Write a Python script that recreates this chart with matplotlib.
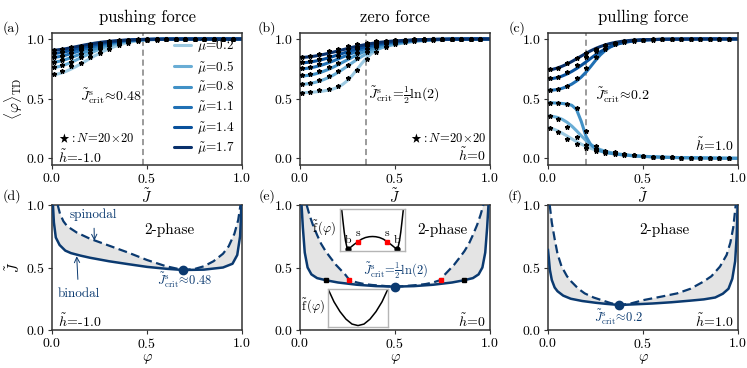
import numpy as np
import matplotlib
matplotlib.use('Agg')
import matplotlib.pyplot as plt

plt.rcParams['font.family'] = 'serif'
plt.rcParams['font.serif'] = ['cmr10']
plt.rcParams['mathtext.fontset'] = 'cm'
plt.rcParams['axes.formatter.use_mathtext'] = True
plt.rcParams['axes.unicode_minus'] = False

# ---- данные: верхний ряд (средняя концентрация от J) ----
mu_vals = [0.2, 0.5, 0.8, 1.1, 1.4, 1.7]
J_th = [0, .025, .05, .075, .1, .125, .15, .175, .2, .225, .25, .275, .3, .325,
        .35, .375, .4, .425, .45, .475, .5, .6, .7, .8, .9, 1.0]
J_mc = [.01, .05, .1, .15, .2, .25, .3, .35, .4, .45, .5, .55, .6, .65, .7, .75,
        .8, .85, .9, .95]

phi_a = [
    [.700, .705, .715, .730, .748, .768, .790, .813, .836, .859, .880, .900, .918, .934, .948, .960, .970, .978, .984, .989, .992, .998, 1, 1, 1, 1],
    [.760, .765, .775, .788, .804, .822, .841, .860, .879, .897, .914, .929, .942, .954, .964, .972, .979, .984, .988, .991, .994, .999, 1, 1, 1, 1],
    [.805, .809, .818, .830, .844, .859, .874, .889, .904, .918, .931, .943, .954, .963, .971, .978, .983, .987, .990, .993, .995, .999, 1, 1, 1, 1],
    [.845, .849, .856, .866, .878, .890, .903, .915, .927, .938, .948, .957, .965, .972, .978, .983, .987, .990, .992, .994, .996, .999, 1, 1, 1, 1],
    [.878, .881, .887, .895, .904, .914, .924, .934, .943, .952, .960, .967, .973, .978, .983, .987, .990, .992, .994, .996, .997, .999, 1, 1, 1, 1],
    [.905, .908, .913, .919, .927, .935, .943, .951, .958, .965, .971, .976, .980, .984, .987, .990, .992, .994, .995, .996, .997, .999, 1, 1, 1, 1],
]
mc_a = [
    [.71, .73, .77, .80, .85, .885, .92, .95, .97, .985, .99, .995, 1, 1, 1, 1, 1, 1, 1, 1],
    [.765, .78, .81, .845, .88, .915, .945, .965, .98, .99, .995, 1, 1, 1, 1, 1, 1, 1, 1, 1],
    [.81, .82, .85, .875, .905, .935, .955, .975, .985, .99, .995, 1, 1, 1, 1, 1, 1, 1, 1, 1],
    [.85, .86, .88, .905, .93, .95, .965, .98, .99, .995, 1, 1, 1, 1, 1, 1, 1, 1, 1, 1],
    [.88, .89, .905, .925, .945, .96, .975, .985, .99, .995, 1, 1, 1, 1, 1, 1, 1, 1, 1, 1],
    [.91, .915, .93, .945, .96, .97, .98, .99, .995, 1, 1, 1, 1, 1, 1, 1, 1, 1, 1, 1],
]

phi_b = [
    [.550, .551, .553, .556, .560, .565, .572, .582, .597, .620, .652, .695, .745, .795, .840, .876, .904, .926, .943, .956, .966, .988, .996, .999, 1, 1],
    [.620, .622, .627, .635, .646, .660, .677, .697, .720, .746, .773, .801, .828, .853, .875, .894, .910, .924, .936, .946, .955, .980, .992, .997, .999, 1],
    [.690, .692, .697, .705, .716, .730, .746, .764, .784, .805, .826, .847, .867, .885, .901, .916, .929, .940, .950, .958, .965, .985, .994, .998, 1, 1],
    [.750, .752, .757, .765, .775, .787, .801, .816, .832, .849, .865, .881, .896, .910, .923, .934, .944, .953, .960, .967, .972, .988, .995, .998, 1, 1],
    [.800, .802, .806, .813, .821, .831, .842, .854, .867, .880, .893, .905, .917, .928, .938, .947, .955, .962, .968, .973, .977, .990, .996, .999, 1, 1],
    [.845, .847, .851, .856, .863, .871, .880, .890, .900, .910, .920, .930, .939, .947, .955, .962, .968, .973, .977, .981, .984, .993, .997, .999, 1, 1],
]
mc_b = [
    [.55, .56, .57, .58, .61, .67, .74, .83, .89, .93, .96, .975, .985, .99, .995, 1, 1, 1, 1, 1],
    [.625, .635, .655, .69, .73, .78, .84, .89, .93, .955, .97, .985, .99, .995, 1, 1, 1, 1, 1, 1],
    [.695, .705, .73, .765, .80, .845, .885, .92, .945, .965, .98, .99, .995, 1, 1, 1, 1, 1, 1, 1],
    [.755, .765, .79, .82, .855, .885, .915, .94, .96, .975, .985, .99, .995, 1, 1, 1, 1, 1, 1, 1],
    [.805, .815, .835, .86, .89, .915, .935, .955, .97, .98, .99, .995, 1, 1, 1, 1, 1, 1, 1, 1],
    [.85, .86, .875, .90, .92, .94, .955, .97, .98, .985, .99, .995, 1, 1, 1, 1, 1, 1, 1, 1],
]

phi_c = [
    [.257, .248, .232, .211, .188, .164, .141, .120, .101, .085, .071, .060, .051, .044, .038, .033, .029, .025, .022, .019, .017, .010, .006, .004, .002, .001],
    [.355, .352, .343, .327, .303, .271, .232, .190, .150, .117, .092, .074, .061, .051, .043, .037, .032, .028, .024, .021, .018, .011, .007, .004, .002, .001],
    [.465, .465, .463, .460, .455, .445, .410, .310, .185, .115, .082, .064, .052, .044, .038, .033, .029, .025, .022, .019, .017, .010, .006, .004, .002, .001],
    [.570, .572, .577, .587, .602, .622, .648, .681, .722, .770, .820, .866, .902, .930, .950, .964, .974, .981, .986, .990, .992, .997, .999, 1, 1, 1],
    [.665, .669, .677, .690, .707, .728, .752, .779, .808, .838, .867, .893, .915, .934, .949, .961, .970, .977, .983, .987, .990, .997, .999, 1, 1, 1],
    [.740, .746, .757, .772, .790, .811, .834, .857, .880, .901, .920, .936, .950, .961, .970, .977, .983, .987, .990, .992, .994, .998, .999, 1, 1, 1],
]
mc_c = [
    [.255, .22, .165, .12, .085, .06, .045, .035, .03, .025, .02, .015, .01, .008, .006, .005, .004, .003, .002, .002],
    [.355, .33, .26, .18, .11, .075, .055, .045, .035, .028, .02, .015, .01, .008, .006, .005, .004, .003, .002, .002],
    [.465, .46, .455, .42, .23, .10, .065, .05, .04, .03, .02, .015, .01, .008, .006, .005, .004, .003, .002, .002],
    [.575, .58, .61, .67, .76, .85, .92, .955, .975, .985, .99, .995, 1, 1, 1, 1, 1, 1, 1, 1],
    [.67, .68, .72, .78, .85, .90, .94, .965, .98, .99, .995, 1, 1, 1, 1, 1, 1, 1, 1, 1],
    [.745, .76, .80, .84, .88, .92, .95, .97, .98, .99, .995, 1, 1, 1, 1, 1, 1, 1, 1, 1],
]
J_crit = [0.48, 0.3466, 0.2]

# ---- данные: нижний ряд (бинодаль / спинодаль) ----
phi_bin_d = [.005, .01, .02, .04, .07, .1, .15, .2, .3, .4, .5, .6, .69, .8, .9, .95, .975, .99, .997]
J_bin_d = [1.0, .86, .74, .68, .635, .615, .595, .578, .55, .527, .505, .49, .48, .483, .50, .53, .60, .75, 1.0]
phi_sp_d = [.03, .042, .06, .08, .13, .2, .3, .4, .5, .6, .69, .75, .8, .85, .9, .93, .96, .98, .992]
J_sp_d = [1.0, .93, .87, .83, .78, .73, .675, .62, .56, .51, .48, .488, .51, .55, .61, .67, .77, .88, 1.0]

phi_bin_e = [.008, .015, .025, .04, .06, .09, .14, .2, .3, .4, .5, .6, .7, .8, .86, .91, .94, .96, .975, .985, .992]
J_bin_e = [1.0, .82, .62, .50, .445, .415, .397, .38, .362, .351, .347, .351, .362, .38, .397, .415, .445, .50, .62, .82, 1.0]
phi_sp_e = [.035, .05, .068, .09, .111, .135, .163, .19, .215, .24, .26, .3, .337, .38, .424, .46, .5,
            .54, .576, .62, .663, .7, .74, .76, .785, .81, .837, .865, .889, .91, .932, .95, .965]
J_sp_e = [1.0, .92, .84, .76, .69, .63, .573, .52, .48, .44, .40, .38, .368, .36, .355, .35, .347,
          .35, .355, .36, .368, .38, .40, .44, .48, .52, .573, .63, .69, .76, .84, .92, 1.0]

phi_bin_f = [0.0, .004, .01, .02, .035, .05, .08, .12, .18, .25, .3, .375, .45, .55, .65, .75, .82, .88, .92, .95, .97, .985, .993, .998]
J_bin_f = [.64, .58, .48, .40, .34, .31, .275, .25, .232, .218, .21, .2, .205, .212, .222, .235, .245, .26, .29, .33, .41, .55, .75, 1.0]
phi_sp_f = [.009, .02, .036, .05, .071, .1, .123, .16, .193, .24, .28, .33, .375, .43, .505, .6, .68, .75, .818, .86, .905, .94, .96, .975, .988]
J_sp_f = [1.0, .86, .72, .61, .51, .43, .387, .33, .293, .26, .24, .215, .2, .21, .24, .268, .293, .33, .387, .43, .507, .60, .70, .82, 1.0]

crit_points = [(0.69, 0.48), (0.5, 0.347), (0.375, 0.2)]
b_phi_e, s_phi_e, bs_J_e = [0.135, 0.865], [0.26, 0.74], 0.40

# вставки в (e): свободная энергия
dw_x = [.025, .045, .065, .085, .105, .125, .15, .18, .22, .275, .33, .39, .45, .5,
        .55, .61, .67, .725, .78, .82, .85, .875, .895, .915, .935, .955, .975]
dw_y = [1.0, .72, .45, .24, .10, .05, .07, .11, .16, .22, .28, .32, .34, .345,
        .34, .32, .28, .22, .16, .11, .07, .05, .10, .24, .45, .72, 1.0]
pw_x = [.01, .1, .2, .3, .4, .5, .6, .7, .8, .9, .99]
pw_y = [.97, .66, .40, .20, .07, .03, .07, .20, .40, .66, .97]

navy = '#0b3a70'
colors = plt.cm.Blues(np.linspace(0.38, 1.0, 6))
spine_col = '#333333'

fig = plt.figure(figsize=(7.47, 3.68), dpi=100)
lefts = [52/747, 300/747, 548/747]
w = 190/747
ax_top = [fig.add_axes([l, 1-165/368, w, 132/368]) for l in lefts]
ax_bot = [fig.add_axes([l, 1-330/368, w, 125/368]) for l in lefts]

def style(ax):
    for s in ax.spines.values():
        s.set_color(spine_col)
        s.set_linewidth(1.1)
    ax.tick_params(labelsize=10, length=3, width=0.8, pad=2, color=spine_col)
    ax.set_xticks([0, 0.5, 1.0])
    ax.set_yticks([0, 0.5, 1.0])
    ax.set_xlim(0, 1)

titles = ['pushing force', 'zero force', 'pulling force']
th_all = [phi_a, phi_b, phi_c]
mc_all = [mc_a, mc_b, mc_c]
for i, ax in enumerate(ax_top):
    style(ax)
    for k, mu in enumerate(mu_vals):
        ax.plot(J_th, th_all[i][k], color=colors[k], lw=2.2, solid_capstyle='round',
                label=r'$\tilde{\mu}\!=\!%.1f$' % mu)
    for k in range(6):
        ax.plot(J_mc, mc_all[i][k], ls='none', marker='*', color='k', ms=3.3, zorder=5)
    ax.axvline(J_crit[i], color='0.5', ls=(0, (4, 2.5)), lw=1.1, zorder=1)
    ax.set_ylim(-0.055, 1.05)
    ax.set_title(titles[i], fontsize=12, pad=8)
    ax.set_xlabel(r'$\tilde{J}$', fontsize=10.5, labelpad=1)

ax_top[0].set_ylabel(r'$\langle\varphi\rangle_{\rm TD}$', fontsize=11, labelpad=1)
ax_top[0].legend(loc='lower right', frameon=False, fontsize=9.5, handlelength=1.3,
                 handletextpad=0.4, labelspacing=0.3, borderaxespad=0.2)
ax_top[0].text(0.47, 0.52, r'$\tilde{J}^{\rm s}_{\rm crit}\!\approx\!0.48$', fontsize=10,
               ha='right', va='center')
ax_top[0].text(0.03, 0.17, r'$\bigstar: N\!=\!20\!\times\!20$', fontsize=9, ha='left', va='center')
ax_top[0].text(0.03, 0.01, r'$\tilde{h}\!=\!$-1.0', fontsize=10, ha='left', va='center')
ax_top[1].text(0.36, 0.53, r'$\tilde{J}^{\rm s}_{\rm crit}\!=\!\frac{1}{2}\ln(2)$', fontsize=10,
               ha='left', va='center')
ax_top[1].text(0.98, 0.17, r'$\bigstar: N\!=\!20\!\times\!20$', fontsize=9, ha='right', va='center')
ax_top[1].text(0.98, 0.03, r'$\tilde{h}\!=\!0$', fontsize=10, ha='right', va='center')
ax_top[2].text(0.245, 0.53, r'$\tilde{J}^{\rm s}_{\rm crit}\!\approx\!0.2$', fontsize=10,
               ha='left', va='center')
ax_top[2].text(0.98, 0.11, r'$\tilde{h}\!=\!1.0$', fontsize=10, ha='right', va='center')

# нижний ряд
bins = [(phi_bin_d, J_bin_d), (phi_bin_e, J_bin_e), (phi_bin_f, J_bin_f)]
sps = [(phi_sp_d, J_sp_d), (phi_sp_e, J_sp_e), (phi_sp_f, J_sp_f)]
for i, ax in enumerate(ax_bot):
    style(ax)
    pb, jb = bins[i]
    ps, js = sps[i]
    px = np.r_[pb, ps[::-1], 0.0]
    py = np.r_[jb, js[::-1], js[0]]
    ax.fill(px, py, color='#e4e4e4', lw=0, zorder=1)
    ax.plot(pb, jb, color=navy, lw=1.8, zorder=3)
    ax.plot(ps, js, color=navy, lw=1.6, ls=(0, (4, 2)), zorder=3)
    ax.plot(*crit_points[i], 'o', color=navy, ms=6, zorder=6)
    ax.set_ylim(0, 1)
    ax.set_xlabel(r'$\varphi$', fontsize=10.5, labelpad=1)
    ax.text([0.62, 0.75, 0.61][i], 0.80, '2-phase', fontsize=11, ha='center', va='center')

ax_bot[0].set_ylabel(r'$\tilde{J}$', fontsize=10.5, labelpad=2)
ax_bot[0].annotate('spinodal', xy=(0.223, 0.715), xytext=(0.22, 0.92), color=navy, fontsize=9.5,
                   ha='center', va='center',
                   arrowprops=dict(arrowstyle='->', color=navy, lw=0.7, shrinkA=3, shrinkB=0))
ax_bot[0].annotate('binodal', xy=(0.13, 0.59), xytext=(0.14, 0.29), color=navy, fontsize=9.5,
                   ha='center', va='center',
                   arrowprops=dict(arrowstyle='->', color=navy, lw=0.7, shrinkA=4, shrinkB=0))
ax_bot[0].text(0.70, 0.40, r'$\tilde{J}^{\rm s}_{\rm crit}\!\approx\!0.48$', color=navy, fontsize=9,
               ha='center', va='center')
ax_bot[0].text(0.03, 0.07, r'$\tilde{h}\!=\!$-1.0', fontsize=10, ha='left', va='center')

ax_bot[1].plot(b_phi_e, [bs_J_e]*2, 's', color='k', ms=3.5, zorder=7)
ax_bot[1].plot(s_phi_e, [bs_J_e]*2, 's', color='red', ms=3.5, zorder=7)
ax_bot[1].text(0.5, 0.475, r'$\tilde{J}^{\rm s}_{\rm crit}\!=\!\frac{1}{2}\ln(2)$', color=navy,
               fontsize=9, ha='center', va='center')
ax_bot[1].text(0.98, 0.07, r'$\tilde{h}\!=\!0$', fontsize=10, ha='right', va='center')

ax_bot[2].text(0.37, 0.105, r'$\tilde{J}^{\rm s}_{\rm crit}\!\approx\!0.2$', color=navy, fontsize=9,
               ha='center', va='center')
ax_bot[2].text(0.98, 0.07, r'$\tilde{h}\!=\!1.0$', fontsize=10, ha='right', va='center')

# вставки
ins1 = fig.add_axes([340/747, 1-251/368, 65/747, 42/368])
ins1.plot(dw_x, dw_y, color='k', lw=1.1)
ins1.plot([dw_x[5], dw_x[21]], [dw_y[5], dw_y[21]], 'o', color='k', ms=3.5)
ins1.plot([dw_x[9], dw_x[17]], [dw_y[9], dw_y[17]], 's', color='red', ms=3.2)
for idx, lab in [(5, 'b'), (21, 'b'), (9, 's'), (17, 's')]:
    ins1.text(dw_x[idx], dw_y[idx] + 0.2, lab, fontsize=8.5, ha='center', va='center')
ins1.text(-0.05, 0.55, r'$\tilde{\rm f}\,(\varphi)$', fontsize=9, ha='right', va='center',
          transform=ins1.transAxes)

ins2 = fig.add_axes([328/747, 1-326.7/368, 60/747, 37.7/368])
ins2.plot(pw_x, pw_y, color='k', lw=1.1)
ins2.text(-0.04, 0.55, r'$\tilde{\rm f}\,(\varphi)$', fontsize=9, ha='right', va='center',
          transform=ins2.transAxes)
for ins in (ins1, ins2):
    ins.set_xlim(0, 1)
    ins.set_ylim(0, 1)
    ins.set_xticks([])
    ins.set_yticks([])
    for s in ins.spines.values():
        s.set_color('#b5b5b5')
        s.set_linewidth(1.0)

# подписи панелей
for lab, x, y in [('(a)', 3, 32), ('(b)', 258, 32), ('(c)', 509, 32),
                  ('(d)', 3, 200), ('(e)', 259, 200), ('(f)', 508, 200)]:
    fig.text(x/747, 1-y/368, lab, fontsize=10, ha='left', va='baseline')

fig.savefig('out.png', dpi=100)
